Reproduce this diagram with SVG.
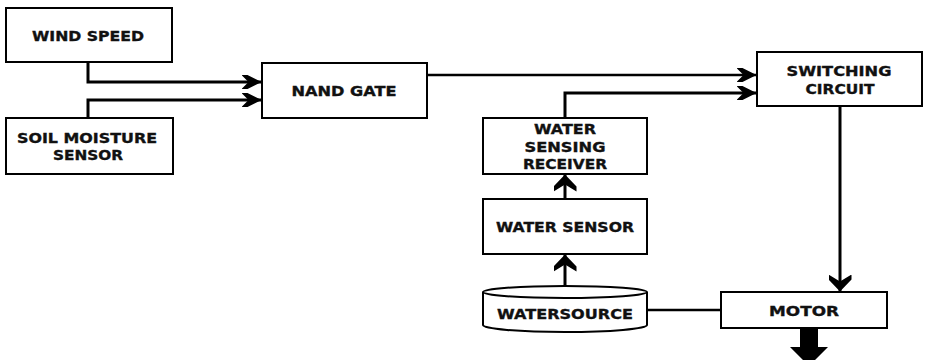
<svg xmlns="http://www.w3.org/2000/svg" width="925" height="360" viewBox="0 0 925 360">
<style>
.box{fill:#fff;stroke:#000;stroke-width:2}
.t{font-family:"DejaVu Sans",Verdana,sans-serif;font-weight:bold;font-size:13.5px;fill:#111;stroke:#111;stroke-width:0.35;text-anchor:middle}
.ln{fill:none;stroke:#000;stroke-width:3}
</style>
<defs>
<marker id="ah" markerUnits="userSpaceOnUse" markerWidth="20" markerHeight="14" refX="19.5" refY="7" orient="auto" viewBox="0 0 20 14">
<path d="M0,0 L6,0 L20,7 L6,14 L0,14 L7,7 z" fill="#000"/>
</marker>
<marker id="av" markerUnits="userSpaceOnUse" markerWidth="17" markerHeight="23" refX="16.5" refY="11.5" orient="auto" viewBox="0 0 17 23">
<path d="M0,0 L5,0 L17,11.5 L5,23 L0,23 L7,11.5 z" fill="#000"/>
</marker>
</defs>
<g id="connectors">
<path class="ln" d="M88,62 V82 H261" marker-end="url(#ah)"/>
<path class="ln" d="M88,118 V100 H261" marker-end="url(#ah)"/>
<path class="ln" d="M427,75 H756" marker-end="url(#ah)" style="stroke-width:2.5"/>
<path class="ln" d="M565,118 V93 H756" marker-end="url(#ah)"/>
<path class="ln" d="M565,199 V175" marker-end="url(#av)"/>
<path class="ln" d="M565,300 V255" marker-end="url(#av)"/>
<path class="ln" d="M840,106 V291" marker-end="url(#av)"/>
<path class="ln" d="M647,310 H721" style="stroke-width:2.5"/>
<polygon points="800,328 818,328 818,347 828,347 809,366 790,347 800,347" fill="#000"/>
</g>
<g id="wind-speed">
<rect class="box" x="6" y="8" width="166" height="54"/>
<text class="t" x="88" y="41" textLength="112" lengthAdjust="spacingAndGlyphs">WIND SPEED</text>
</g>
<g id="soil-moisture">
<rect class="box" x="6" y="118" width="167" height="56"/>
<text class="t" x="87" y="143" textLength="140" lengthAdjust="spacingAndGlyphs">SOIL MOISTURE</text>
<text class="t" x="88" y="160" textLength="70" lengthAdjust="spacingAndGlyphs">SENSOR</text>
</g>
<g id="nand-gate">
<rect class="box" x="262" y="63" width="165" height="55"/>
<text class="t" x="344" y="96" textLength="105" lengthAdjust="spacingAndGlyphs">NAND GATE</text>
</g>
<g id="switching-circuit">
<rect class="box" x="757" y="52" width="165" height="54"/>
<text class="t" x="839" y="76" textLength="105" lengthAdjust="spacingAndGlyphs">SWITCHING</text>
<text class="t" x="840" y="94" textLength="69" lengthAdjust="spacingAndGlyphs">CIRCUIT</text>
</g>
<g id="water-sensing-receiver">
<rect class="box" x="483" y="118" width="164" height="56"/>
<text class="t" x="565" y="134" textLength="62" lengthAdjust="spacingAndGlyphs">WATER</text>
<text class="t" x="565" y="152" textLength="81" lengthAdjust="spacingAndGlyphs">SENSING</text>
<text class="t" x="565" y="169" textLength="84" lengthAdjust="spacingAndGlyphs">RECEIVER</text>
</g>
<g id="water-sensor">
<rect class="box" x="483" y="199" width="164" height="55"/>
<text class="t" x="565" y="232" textLength="138" lengthAdjust="spacingAndGlyphs">WATER SENSOR</text>
</g>
<g id="watersource">
<path class="box" d="M483,292 V325 A82,7 0 0 0 647,325 V292"/>
<ellipse cx="565" cy="292" rx="82" ry="6" fill="#fff" stroke="#000" stroke-width="2"/>
<text class="t" x="565" y="319" textLength="136" lengthAdjust="spacingAndGlyphs">WATERSOURCE</text>
</g>
<g id="motor">
<rect class="box" x="721" y="292" width="166" height="36"/>
<text class="t" x="804" y="316" textLength="70" lengthAdjust="spacingAndGlyphs">MOTOR</text>
</g>
</svg>
